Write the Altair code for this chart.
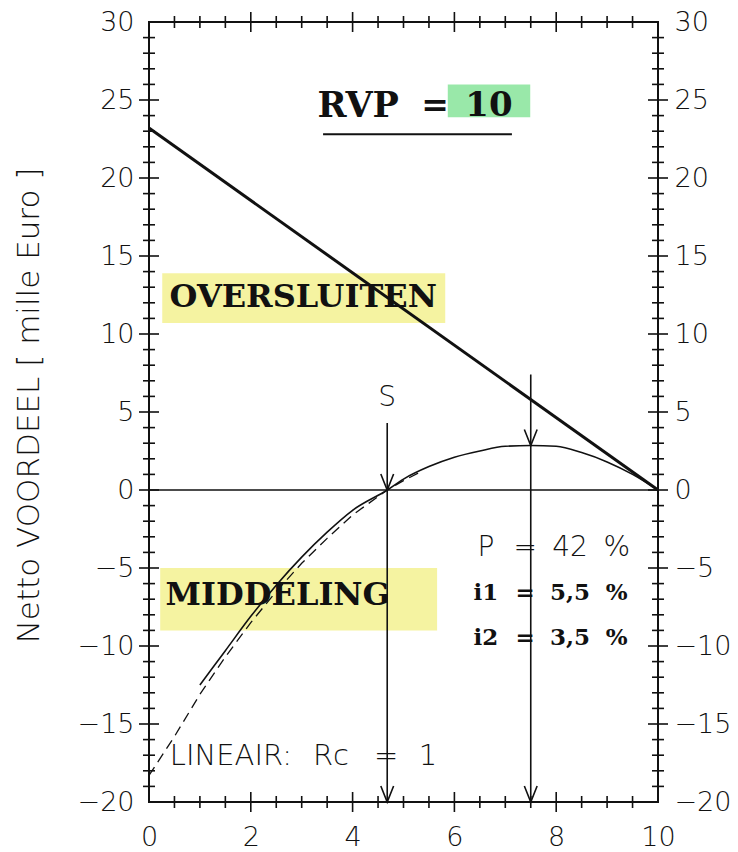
import altair as alt
import pandas as pd

# Netto voordeel (duizend euro) tegen de looptijd
over_x = [0.0, 10.0]
over_y = [23.2, 0.0]

# middeling (getrokken kromme)
mid_x = [1.0, 1.5, 2.0, 2.5, 3.0, 3.5, 4.0, 4.68, 5.0, 5.5, 6.0, 6.5, 7.0, 7.5, 8.0, 8.5, 9.0, 9.5, 10.0]
mid_y = [-12.5, -10.3, -8.1, -6.1, -4.3, -2.7, -1.3, 0.0, 0.7, 1.5, 2.1, 2.5, 2.8, 2.85, 2.8, 2.4, 1.8, 1.0, 0.0]

# lineair, Rc = 1 (gestreepte kromme)
lin_x = [0.0, 0.5, 1.0, 1.5, 2.0, 2.5, 3.0, 3.5, 4.0, 4.68, 5.0, 5.3]
lin_y = [-18.3, -15.8, -13.1, -10.7, -8.5, -6.5, -4.7, -3.1, -1.6, 0.0, 0.6, 1.1]

# verticale pijlen: S (snijpunt) en het maximum van de middeling
arrow_x = [4.68, 7.5]
arrow_top = [4.3, 7.4]
arrow_tip = [0.0, 2.85]

# maatstreepjes
y_labels = [-20, -15, -10, -5, 0, 5, 10, 15, 20, 25, 30]
x_labels = [0, 2, 4, 6, 8, 10]
y_major = [-15, -10, -5, 0, 5, 10, 15, 20, 25]
y_minor = [v for v in range(-19, 30) if v % 5 != 0]
x_major = [2, 4, 6, 8]
x_minor = [v / 2 for v in range(1, 20) if v % 4 != 0]

W, H = 509, 780
LIGHT = "DejaVu Sans"
SERIF = "DejaVu Serif"
INK = "#111111"

xs = alt.Scale(domain=[0, 10], nice=False, zero=False)
ys = alt.Scale(domain=[-20, 30], nice=False, zero=False)
one = alt.Data(values=[{}])


def X(field, **kw):
    return alt.X(field, type="quantitative", scale=xs, **kw)


def Y(field, **kw):
    return alt.Y(field, type="quantitative", scale=ys, **kw)


def text(s, x, y, font, size, weight="normal", align="center"):
    return alt.Chart(one).mark_text(
        text=s, font=font, fontSize=size, fontWeight=weight,
        align=align, baseline="middle", color=INK,
    ).encode(x=alt.X(datum=x, scale=xs), y=alt.Y(datum=y, scale=ys))


def box(x1, x2, y1, y2, color, opacity=1.0):
    return alt.Chart(one).mark_rect(color=color, opacity=opacity).encode(
        x=alt.X(datum=x1, scale=xs), x2=alt.X2(datum=x2),
        y=alt.Y(datum=y1, scale=ys), y2=alt.Y2(datum=y2),
    )


over_df = pd.DataFrame({"x": over_x, "y": over_y})
mid_df = pd.DataFrame({"x": mid_x, "y": mid_y})
lin_df = pd.DataFrame({"x": lin_x, "y": lin_y})
arr_df = pd.DataFrame({"x": arrow_x, "top": arrow_top, "tip": arrow_tip})
tips_df = pd.DataFrame({"x": arrow_x + arrow_x, "y": arrow_tip + [-20, -20]})

LABEL_STYLE = dict(labelFont=LIGHT, labelFontWeight=200, labelFontSize=27, labelColor=INK,
                   labelFlush=False, labelOverlap=False,
                   domain=False, ticks=False, grid=False, format="d")

# assen met alleen de getallen; het kader komt van de view
base = alt.Chart(pd.DataFrame({"x": [0, 10], "y": [-20, 30]})).mark_point(opacity=0).encode(
    x=alt.X("x:Q", scale=xs, axis=alt.Axis(
        values=x_labels, title=None, orient="bottom", labelPadding=22, **LABEL_STYLE,
    )),
    y=alt.Y("y:Q", scale=ys, axis=alt.Axis(
        values=y_labels, orient="left", labelPadding=15, **LABEL_STYLE,
        title="Netto VOORDEEL [ mille Euro ]", titleFont=LIGHT, titleFontWeight=200,
        titleFontSize=31, titleColor=INK, titleAngle=-90, titleX=-120, titleY=383,
        titleAlign="center", titleBaseline="middle",
    )),
)

right_axis = alt.Chart(pd.DataFrame({"y": [-20, 30]})).mark_point(opacity=0).encode(
    y=alt.Y("y:Q", scale=ys, axis=alt.Axis(
        values=y_labels, orient="right", labelPadding=16, title=None, **LABEL_STYLE,
    )),
)


def yticks(vals, half):
    d = pd.DataFrame({"v": vals})
    left = alt.Chart(d).mark_rule(color=INK, strokeWidth=1.6).encode(
        y=Y("v"), x=alt.value(-half), x2=alt.value(half))
    right = alt.Chart(d).mark_rule(color=INK, strokeWidth=1.6).encode(
        y=Y("v"), x=alt.value(W - half), x2=alt.value(W + half))
    return [left, right]


def xticks(vals, half):
    d = pd.DataFrame({"v": vals})
    bottom = alt.Chart(d).mark_rule(color=INK, strokeWidth=1.6).encode(
        x=X("v"), y=alt.value(H - half), y2=alt.value(H + half))
    top = alt.Chart(d).mark_rule(color=INK, strokeWidth=1.6).encode(
        x=X("v"), y=alt.value(-half), y2=alt.value(half))
    return [bottom, top]


ticks = yticks(y_minor, 6) + yticks(y_major, 10) + xticks(x_minor, 6) + xticks(x_major, 10)

highlights = [
    box(5.87, 7.49, 26.0, 23.9, "#8ee6a0", 0.9),
    box(0.26, 5.82, 13.9, 10.7, "#f3f190", 0.85),
    box(0.22, 5.66, -5.0, -9.0, "#f3f190", 0.85),
]

zero_line = alt.Chart(one).mark_rule(color=INK, strokeWidth=1.4).encode(
    x=alt.X(datum=0, scale=xs), x2=alt.X2(datum=10),
    y=alt.Y(datum=0, scale=ys))

over_line = alt.Chart(over_df).mark_line(color=INK, strokeWidth=3).encode(x=X("x"), y=Y("y"))
lin_line = alt.Chart(lin_df).mark_line(color=INK, strokeWidth=1.3, strokeDash=[10, 6]).encode(
    x=X("x"), y=Y("y"))
mid_line = alt.Chart(mid_df).mark_line(color=INK, strokeWidth=1.6, interpolate="monotone").encode(
    x=X("x"), y=Y("y"))

arrow_lines = alt.Chart(arr_df).mark_rule(color=INK, strokeWidth=1.6).encode(
    x=X("x"), y=Y("top"), y2=alt.value(H))
arrow_heads = alt.Chart(tips_df).mark_point(
    shape="M-0.4,-1L0,0L0.4,-1", size=1024, filled=False, color=INK, strokeWidth=1.6, opacity=1,
).encode(x=X("x"), y=Y("y"))

underline = alt.Chart(one).mark_rule(color=INK, strokeWidth=2).encode(
    x=alt.X(datum=3.42, scale=xs), x2=alt.X2(datum=7.13),
    y=alt.Y(datum=22.8, scale=ys))

labels = [
    text("RVP", 4.11, 24.6, SERIF, 35, "bold"),
    text("=", 5.62, 24.6, SERIF, 33, "bold"),
    text("10", 6.68, 24.6, SERIF, 34, "bold"),
    text("OVERSLUITEN", 3.03, 12.35, SERIF, 32, "bold"),
    text("MIDDELING", 2.53, -6.7, SERIF, 32, "bold"),
    text("S", 4.68, 5.9, LIGHT, 28, 200),
    text("P", 6.62, -3.72, LIGHT, 28, 200),
    text("=", 7.39, -3.72, LIGHT, 28, 200),
    text("42", 8.27, -3.72, LIGHT, 28, 200),
    text("%", 9.19, -3.72, LIGHT, 28, 200),
    text("i1", 6.62, -6.6, SERIF, 23, "bold"),
    text("=", 7.39, -6.6, SERIF, 23, "bold"),
    text("5,5", 8.27, -6.6, SERIF, 23, "bold"),
    text("%", 9.19, -6.6, SERIF, 23, "bold"),
    text("i2", 6.62, -9.49, SERIF, 23, "bold"),
    text("=", 7.39, -9.49, SERIF, 23, "bold"),
    text("3,5", 8.27, -9.49, SERIF, 23, "bold"),
    text("%", 9.19, -9.49, SERIF, 23, "bold"),
    text("LINEAIR:", 0.41, -17.05, LIGHT, 29, 200, "left"),
    text("Rc", 3.22, -17.05, LIGHT, 29, 200, "left"),
    text("=", 4.66, -17.05, LIGHT, 29, 200),
    text("1", 5.48, -17.05, LIGHT, 29, 200),
]

main = alt.layer(
    base, *highlights, zero_line, *ticks, lin_line, mid_line, over_line,
    arrow_lines, arrow_heads, underline, *labels,
)

chart = alt.layer(main, right_axis).resolve_scale(y="independent").properties(
    width=W, height=H,
    padding={"left": 149, "top": 22, "right": 80, "bottom": 50},
    autosize=alt.AutoSizeParams(type="none"),
    background="white",
).configure_view(stroke=INK, strokeWidth=2)

chart.save("out.html", embed_options={"renderer": "svg", "actions": False})
